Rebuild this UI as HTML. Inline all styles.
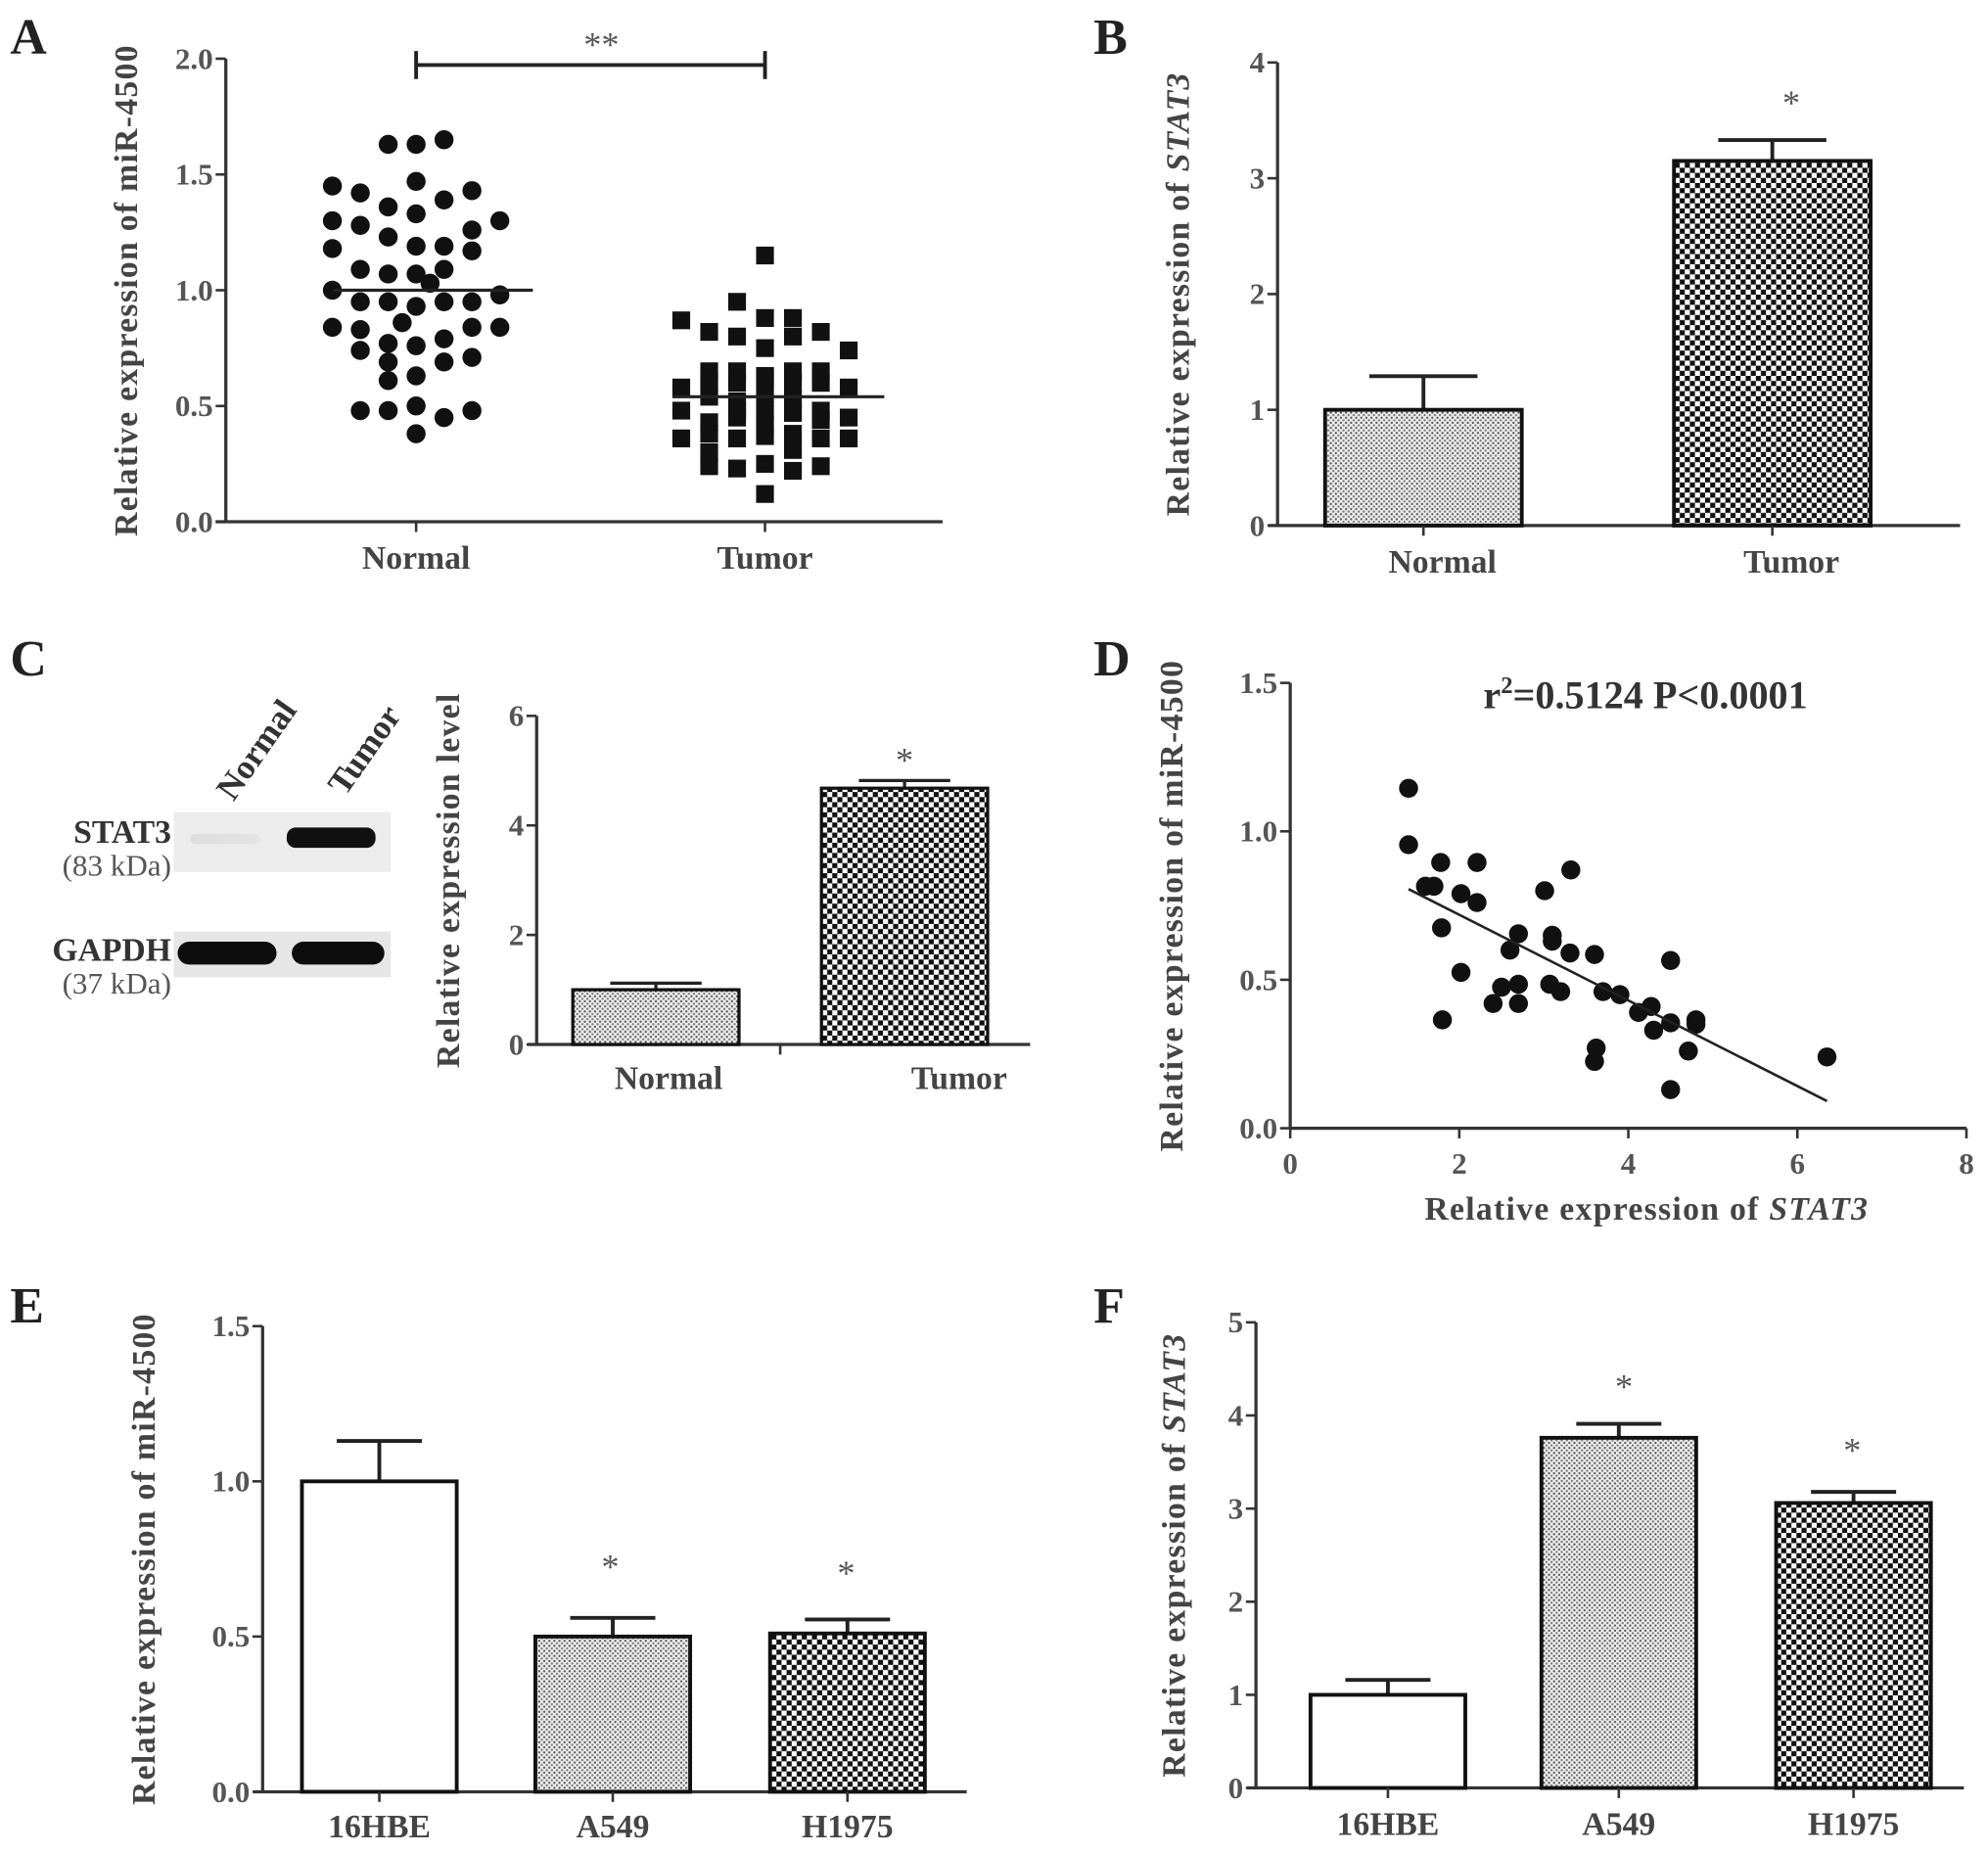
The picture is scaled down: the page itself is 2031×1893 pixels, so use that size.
<!DOCTYPE html>
<html><head><meta charset="utf-8">
<style>
html,body{margin:0;padding:0;background:#fff;}
svg{display:block;}
text{font-family:"Liberation Serif",serif;}
.tick{font-size:24px;fill:#555;font-weight:bold;}
.cat{font-size:26px;fill:#444;font-weight:bold;}
.ylab{font-size:26px;fill:#444;font-weight:bold;letter-spacing:1px;}
.letter{font-size:40px;font-weight:bold;fill:#222;}
.star{font-size:28px;fill:#555;}
</style></head>
<body>
<svg id="fig" width="2031" height="1893" viewBox="0 0 1567 1460" xmlns="http://www.w3.org/2000/svg">
<defs>
<pattern id="fine" width="4" height="4" patternUnits="userSpaceOnUse"><rect width="4" height="4" fill="#eee"/><circle cx="1" cy="1" r="0.9" fill="#555"/><circle cx="3" cy="3" r="0.9" fill="#777"/></pattern>
<pattern id="checker" width="8" height="8" patternUnits="userSpaceOnUse"><rect width="8" height="8" fill="#fff"/><rect width="4" height="4" fill="#111"/><rect x="4" y="4" width="4" height="4" fill="#111"/></pattern>
<linearGradient id="bandFaint" x1="0" x2="1"><stop offset="0" stop-color="#ddd"/><stop offset="1" stop-color="#e4e4e4"/></linearGradient>
</defs>
<text class="letter" x="8" y="42">A</text>
<text class="letter" x="862" y="42">B</text>
<text class="letter" x="8" y="532">C</text>
<text class="letter" x="862" y="532">D</text>
<text class="letter" x="8" y="1042">E</text>
<text class="letter" x="862" y="1042">F</text>

<g>
<text transform="translate(184,632) rotate(-55)" style="font-size:27px;font-weight:bold;fill:#333">Normal</text>
<text transform="translate(272,628) rotate(-55)" style="font-size:27px;font-weight:bold;fill:#333">Tumor</text>
<rect x="137" y="640" width="171" height="47" fill="#ececec"/>
<rect x="150" y="657" width="55" height="8" rx="4" fill="url(#bandFaint)"/>
<rect x="226" y="652" width="70" height="16" rx="7" fill="#111"/>
<rect x="137" y="734" width="171" height="36" fill="#e6e6e6"/>
<rect x="140" y="742" width="78" height="18" rx="9" fill="#0d0d0d"/>
<rect x="230" y="742" width="73" height="18" rx="9" fill="#0d0d0d"/>
<text x="135" y="664" text-anchor="end" style="font-size:26px;font-weight:bold;fill:#333">STAT3</text>
<text x="135" y="690" text-anchor="end" style="font-size:24px;fill:#555">(83 kDa)</text>
<text x="135" y="757" text-anchor="end" style="font-size:26px;font-weight:bold;fill:#333">GAPDH</text>
<text x="135" y="783" text-anchor="end" style="font-size:24px;fill:#555">(37 kDa)</text>
</g>
<g id="charts"></g>
</svg>
<script>
// Panel A data
const aNormalVals=[1.63,1.63,1.65,1.45,1.42,1.47,1.43,1.39,1.36,1.30,1.28,1.33,1.30,1.26,1.23,1.19,1.19,1.18,1.17,1.09,1.07,1.07,1.09,1.0,0.98,1.03,0.95,0.95,0.95,0.95,0.93,0.84,0.83,0.86,0.84,0.84,0.77,0.76,0.79,0.74,0.71,0.69,0.69,0.61,0.63,0.48,0.48,0.50,0.48,0.45,0.38];
const aNormalSlot=[-1,0,1,-3,-2,0,2,1,-1,-3,-2,0,3,2,-1,0,1,-3,2,-2,-1,0,1,-3,3,0.5,-2,-1,1,2,0,-3,-2,-0.5,2,3,-1,0,1,-2,2,1,-1,-1,0,-2,-1,0,2,1,0];
const aTumorVals=[1.15,0.95,0.87,0.88,0.88,0.82,0.80,0.80,0.82,0.75,0.74,0.65,0.65,0.63,0.65,0.65,0.58,0.60,0.60,0.62,0.60,0.60,0.58,0.54,0.52,0.55,0.53,0.48,0.48,0.48,0.47,0.48,0.45,0.43,0.45,0.42,0.44,0.36,0.38,0.36,0.37,0.38,0.36,0.36,0.30,0.31,0.24,0.23,0.25,0.22,0.24,0.12];
const aTumorSlot=[0,-1,-3,0,1,-2,-1,1,2,0,3,-2,-1,0,1,2,-3,-2,-1,0,1,2,3,-2,-1,0,1,-3,-1,0,1,2,3,-2,-1,0,2,-3,-2,-1,0,1,2,3,-2,1,-2,-1,0,1,2,0];
const aMeans=[1.0,0.54];
const aTicks=[0,0.5,1.0,1.5,2.0];
// Panel B
const bCats=["Normal","Tumor"], bVals=[1.0,3.15], bErr=[0.29,0.18], bTicks=[0,1,2,3,4];
// Panel C
const cCats=["Normal","Tumor"], cVals=[1.0,4.68], cErr=[0.12,0.14], cTicks=[0,2,4,6];
// Panel D
const dX=[1.40,1.40,1.78,2.21,3.32,1.60,1.70,2.02,2.21,3.01,1.79,2.70,3.10,3.10,2.60,3.31,3.60,4.50,2.02,2.50,2.70,3.07,3.20,3.70,3.90,2.40,2.70,4.12,4.27,4.30,4.50,4.80,4.80,1.80,3.62,3.60,4.71,4.50,6.35];
const dY=[1.145,0.955,0.895,0.895,0.87,0.815,0.815,0.79,0.76,0.80,0.675,0.655,0.65,0.63,0.60,0.59,0.585,0.565,0.525,0.475,0.485,0.485,0.46,0.46,0.45,0.42,0.42,0.39,0.41,0.33,0.355,0.365,0.35,0.365,0.27,0.225,0.26,0.13,0.24];
const dXTicks=[0,2,4,6,8], dYTicks=[0,0.5,1.0,1.5];
// Panel E
const eCats=["16HBE","A549","H1975"], eVals=[1.0,0.50,0.51], eErr=[0.13,0.06,0.045], eTicks=[0,0.5,1.0,1.5];
// Panel F
const fCats=["16HBE","A549","H1975"], fVals=[1.0,3.76,3.06], fErr=[0.16,0.15,0.12], fTicks=[0,1,2,3,4,5];

const NS="http://www.w3.org/2000/svg";
const root=document.getElementById('charts');
function mk(tag,attrs,parent){const e=document.createElementNS(NS,tag);for(const k in attrs)e.setAttribute(k,attrs[k]);(parent||root).appendChild(e);return e;}
function fmt(v,dec){return dec?v.toFixed(1):String(v);}
function yAxis(ax,x,y0,y1,ticks,max,dec,label,labelX,italicPart){
  const sy=v=>y0-(v/max)*(y0-y1);
  let e=mk('line',{x1:x,y1:y0,x2:x,y2:y1,stroke:'#333','stroke-width':2.5});
  
  
  ticks.forEach(t=>{
    let l=mk('line',{x1:x-8,x2:x,y1:sy(t),y2:sy(t),stroke:'#333','stroke-width':2});
    
    
    let tx=mk('text',{x:x-10,y:sy(t)+8,'text-anchor':'end',class:'tick'});
    tx.textContent=fmt(t,dec);
    
    
  });
  const cy=(y0+y1)/2;
  let lt=mk('text',{x:labelX,y:cy,class:'ylab','text-anchor':'middle',transform:`rotate(-90 ${labelX} ${cy})`});
  lt.textContent=label;
  if(italicPart){const ts=mk('tspan',{'font-style':'italic'},lt);ts.textContent=italicPart;}
  
  
  return sy;
}
function xAxisLine(ax,x1,x2,y){
  let e=mk('line',{x1:x1,x2:x2,y1:y,y2:y,stroke:'#333','stroke-width':2.5});
  
  
}
function catLabel(ax,x,y,txt,tick,yAxisY){
  if(tick){let l=mk('line',{x1:x,x2:x,y1:yAxisY,y2:yAxisY+8,stroke:'#333','stroke-width':2});
    
    }
  let t=mk('text',{x:x,y:y,'text-anchor':'middle',class:'cat'});
  t.textContent=txt;
  
  
}
function star(ax,x,y,s){let t=mk('text',{x:x,y:y,'text-anchor':'middle',class:'star'});t.textContent=s;
  
  }
function bars(ax,cats,vals,errs,fills,centers,width,sy,base,sw){
  cats.forEach((c,i)=>{
    const cx=centers[i], top=sy(vals[i]), et=sy(vals[i]+errs[i]);
    let el=mk('line',{x1:cx,x2:cx,y1:top,y2:et,stroke:'#222','stroke-width':sw});
    
    
    let ec=mk('line',{x1:cx-width/2*0.55,x2:cx+width/2*0.55,y1:et,y2:et,stroke:'#222','stroke-width':sw});
    
    
    let r=mk('rect',{x:cx-width/2,y:top,width:width,height:base-top,fill:fills[i],stroke:'#111','stroke-width':sw});
    
    
  });
}

// ---- Panel A
(function(){
  const x0=178,y0=411,y1=46;
  const sy=yAxis('a',x0,y0,y1,aTicks,2.0,true,'Relative expression of miR-4500',108);
  xAxisLine('a',170,743,y0);
  const cN=328,cT=603,slot=22;
  catLabel('a',cN,448,'Normal',true,y0);
  catLabel('a',cT,448,'Tumor',true,y0);
  aNormalVals.forEach((v,i)=>{let c=mk('circle',{cx:cN+aNormalSlot[i]*slot,cy:sy(v),r:7.5,fill:'#111'});
    
    });
  aTumorVals.forEach((v,i)=>{let r=mk('rect',{x:cT+aTumorSlot[i]*slot-7,y:sy(v)-7,width:14,height:14,fill:'#111'});
    
    });
  let m1=mk('line',{x1:263,x2:420,y1:sy(aMeans[0]),y2:sy(aMeans[0]),stroke:'#222','stroke-width':2.5});
  
  
  let m2=mk('line',{x1:530,x2:697,y1:sy(aMeans[1]),y2:sy(aMeans[1]),stroke:'#222','stroke-width':2.5});
  
  
  let br=mk('path',{d:`M${cN},40 V62 M${cN},51 H${cT} M${cT},40 V62`,stroke:'#222','stroke-width':3,fill:'none'});
  
  
  star('a',474,44,'**');
})();
// ---- Panel B
(function(){
  const x0=1007,y0=414,y1=49;
  const sy=yAxis('b',x0,y0,y1,bTicks,4,false,'Relative expression of ',937,'STAT3');
  xAxisLine('b',1000,1545,y0);
  const cs=[1122,1397];
  bars('b',bCats,bVals,bErr,['url(#fine)','url(#checker)'],cs,155,sy,y0,3);
  catLabel('b',1137,451,bCats[0],false,y0);
  catLabel('b',1412,451,bCats[1],false,y0);
  cs.forEach(c=>{let l=mk('line',{x1:c,x2:c,y1:y0,y2:y0+8,stroke:'#333','stroke-width':2});
    
    });
  star('b',1412,90,'*');
})();
// ---- Panel C
(function(){
  const x0=423,y0=823,y1=564;
  const sy=yAxis('c',x0,y0,y1,cTicks,6,false,'Relative expression level',362);
  xAxisLine('c',416,812,y0);
  const cs=[517,713];
  bars('c',cCats,cVals,cErr,['url(#fine)','url(#checker)'],cs,131,sy,y0,2.5);
  catLabel('c',527,858,'Normal',false,y0);
  catLabel('c',756,858,'Tumor',false,y0);
  let t=mk('line',{x1:615,x2:615,y1:y0,y2:y0+8,stroke:'#333','stroke-width':2});
  
  
  star('c',713,608,'*');
})();
// ---- Panel D
(function(){
  const x0=1017,y0=889,y1=538,xr=1550;
  const sy=yAxis('d',x0,y0,y1,dYTicks,1.5,true,'Relative expression of miR-4500',932);
  xAxisLine('d',x0,xr,y0);
  const sx=v=>x0+v/8*(xr-x0);
  dXTicks.forEach(t=>{
    let l=mk('line',{x1:sx(t),x2:sx(t),y1:y0,y2:y0+8,stroke:'#333','stroke-width':2});
    
    
    let tx=mk('text',{x:sx(t),y:y0+36,'text-anchor':'middle',class:'tick'});
    tx.textContent=String(t);
    
    
  });
  let xl=mk('text',{x:1298,y:961,'text-anchor':'middle',class:'ylab'});
  xl.textContent='Relative expression of ';
  const it=mk('tspan',{'font-style':'italic'},xl);it.textContent='STAT3';
  
  
  dX.forEach((v,i)=>{let c=mk('circle',{cx:sx(v),cy:sy(dY[i]),r:7.5,fill:'#111'});
    
    });
  const n=dX.length,mx=dX.reduce((a,b)=>a+b)/n,my=dY.reduce((a,b)=>a+b)/n;
  let sxy=0,sxx=0;dX.forEach((v,i)=>{sxy+=(v-mx)*(dY[i]-my);sxx+=(v-mx)*(v-mx);});
  const slope=sxy/sxx,ic=my-slope*mx,xmin=Math.min(...dX),xmax=Math.max(...dX);
  let rl=mk('line',{x1:sx(xmin),y1:sy(ic+slope*xmin),x2:sx(xmax),y2:sy(ic+slope*xmax),stroke:'#222','stroke-width':2});
  
  
  let st=mk('text',{x:1297,y:558,'text-anchor':'middle',style:'font-size:31px;font-weight:bold;fill:#333'});
  st.textContent='r';
  const sup=mk('tspan',{dy:-12,style:'font-size:19px'},st);sup.textContent='2';
  const rest=mk('tspan',{dy:12},st);rest.textContent='=0.5124 P<0.0001';
  
  
})();
// ---- Panel E
(function(){
  const x0=207,y0=1412,y1=1045;
  const sy=yAxis('e',x0,y0,y1,eTicks,1.5,true,'Relative expression of miR-4500',122);
  xAxisLine('e',200,762,y0);
  const cs=[299,483,668];
  bars('e',eCats,eVals,eErr,['#fff','url(#fine)','url(#checker)'],cs,122,sy,y0,3);
  cs.forEach((c,i)=>catLabel('e',c,1448,eCats[i],true,y0));
  star('e',481,1244,'*');
  star('e',667,1249,'*');
})();
// ---- Panel F
(function(){
  const x0=990,y0=1409,y1=1042;
  const sy=yAxis('f',x0,y0,y1,fTicks,5,false,'Relative expression of ',934,'STAT3');
  xAxisLine('f',983,1548,y0);
  const cs=[1094,1276,1461];
  bars('f',fCats,fVals,fErr,['#fff','url(#fine)','url(#checker)'],cs,122,sy,y0,3);
  cs.forEach((c,i)=>catLabel('f',c,1446,fCats[i],true,y0));
  star('f',1280,1102,'*');
  star('f',1460,1152,'*');
})();
</script>
</body></html>
